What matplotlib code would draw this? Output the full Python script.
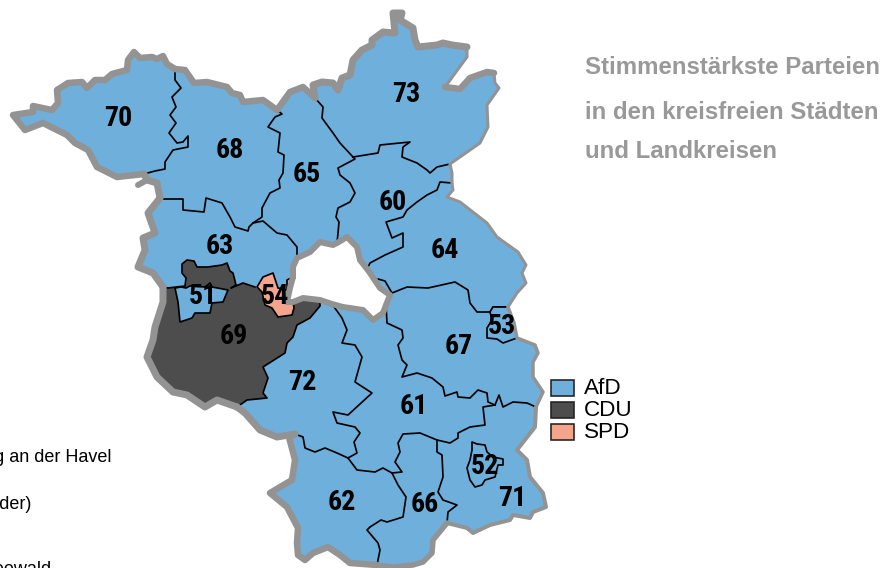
import matplotlib
matplotlib.use('Agg')
import matplotlib.pyplot as plt
from matplotlib.patches import Rectangle

NARROW = ['Roboto Condensed', 'Liberation Sans']
BLUE, DARK, SALMON, GRAU = '#6fafdb', '#4d4d4d', '#f4a58c', '#939393'

# Wahlkreise: Nummer = Beschriftung, Partei = Farbe
kreise = [70, 68, 65, 73, 60, 64, 63, 67, 61, 72, 62, 66, 71, 69, 51, 54, 53, 52]
partei = ['AfD', 'AfD', 'AfD', 'AfD', 'AfD', 'AfD', 'AfD', 'AfD', 'AfD', 'AfD', 'AfD', 'AfD', 'AfD',
          'CDU', 'AfD', 'SPD', 'AfD', 'AfD']
parteien = ['AfD', 'CDU', 'SPD']
farben = [BLUE, DARK, SALMON]
titel = ['Stimmenstärkste Parteien', 'in den kreisfreien Städten', 'und Landkreisen']
liste = ['Brandenburg an der Havel', 'Frankfurt (Oder)', 'Dahme-Spreewald']

# Label-Positionen
label_pos = {70: (118, 117), 68: (230, 150), 65: (307, 173), 73: (406, 94), 60: (393, 201), 64: (445, 249),
             63: (220, 245), 51: (203, 296), 54: (275, 295), 69: (234, 335), 72: (302, 381), 67: (459, 345),
             53: (502, 326), 61: (414, 406), 52: (485, 465), 71: (512, 498), 62: (342, 501), 66: (425, 503)}

# Aussengrenze, Stuecke im Uhrzeigersinn (Pixel des Bildes)
o70 = [(144, 174), (117, 177), (97, 167), (88, 150), (75, 143), (67, 135), (43, 123), (25, 130), (13, 115), (33, 112),
       (33, 106), (52, 110), (58, 103), (57, 90), (68, 83), (82, 82), (87, 88), (95, 80), (105, 80), (112, 74), (127, 70),
       (128, 60), (134, 52), (140, 58), (152, 57), (157, 59), (163, 56), (167, 64), (175, 69)]
o68n = [(175, 69), (185, 70), (194, 83), (207, 82), (227, 87), (232, 93), (240, 95), (243, 102), (263, 100), (277, 110)]
o65 = [(277, 110), (290, 92), (303, 87), (315, 98)]
o73a = [(315, 98), (313, 85), (322, 82), (333, 83), (338, 90), (342, 78), (350, 75), (353, 60), (362, 50), (372, 45),
        (372, 40), (383, 32), (395, 33), (393, 13), (402, 13), (400, 20), (413, 28), (415, 40), (418, 47), (437, 45),
        (443, 43), (452, 45), (467, 47)]
o73b = [(467, 47), (467, 57), (445, 87)]
o73c = [(445, 87), (460, 89), (470, 78), (487, 72), (494, 73)]
o73d = [(494, 73), (495, 83), (499, 88), (487, 105), (488, 127), (480, 143), (450, 164)]
o60 = [(450, 164), (452, 173), (452, 183)]
o64 = [(452, 183), (453, 190), (447, 197), (460, 202), (487, 223), (497, 237), (518, 252), (526, 265), (522, 273),
       (526, 283), (517, 293), (508, 307)]
o67 = [(508, 307), (514, 323), (517, 338), (535, 345), (538, 353), (533, 362), (533, 377), (543, 392), (536, 407)]
o71 = [(536, 407), (535, 427), (517, 450), (527, 460), (530, 477), (543, 493), (546, 507), (533, 512), (530, 518),
       (513, 515), (510, 520), (490, 525), (473, 533), (467, 528), (447, 523)]
o66 = [(447, 523), (433, 540), (432, 553), (423, 562), (413, 565), (393, 567), (377, 565)]
o62 = [(377, 565), (350, 563), (340, 555), (328, 547), (313, 553), (305, 560), (298, 555), (297, 543), (298, 528),
       (287, 507), (270, 493), (292, 480), (295, 460), (289, 437), (295, 434)]
o72 = [(295, 434), (277, 437), (260, 430), (245, 413), (237, 407)]
o69 = [(237, 407), (217, 400), (205, 407), (187, 395), (173, 392), (157, 377), (147, 357), (153, 340), (155, 327),
       (163, 302), (163, 287)]
o63 = [(163, 287), (153, 273), (138, 267), (145, 250), (143, 238), (155, 233), (148, 213), (160, 198)]
o68w = [(160, 198), (157, 183), (147, 180), (144, 174)]
sporn = [(147, 180), (138, 185)]

# Ring um Berlin
b63 = [(293, 277), (293, 267), (297, 258)]
b65 = [(297, 258), (310, 252), (320, 242), (333, 245), (337, 243)]
b60 = [(337, 243), (347, 237), (357, 247), (360, 260), (367, 269)]
b64 = [(367, 269), (370, 273), (376, 282)]
b67 = [(376, 282), (380, 288), (390, 295), (386, 305)]
b61 = [(386, 305), (383, 313), (373, 320), (363, 310), (343, 307), (332, 304)]
b72 = [(332, 304), (320, 300)]
b69 = [(320, 300), (303, 298), (293, 302)]
b54 = [(293, 302), (287, 302), (290, 288), (293, 277)]

# innere Grenzen
a70_68 = [(144, 174), (155, 171), (165, 169), (165, 162), (173, 150), (188, 147), (188, 136), (183, 142), (177, 143),
          (169, 133), (176, 123), (170, 115), (176, 107), (172, 97), (181, 88), (175, 80), (175, 69)]
a68_65 = [(277, 110), (282, 114), (275, 117), (268, 127), (280, 133), (278, 152), (284, 155), (283, 173), (279, 180),
          (280, 188), (270, 193), (262, 208), (262, 217), (253, 223)]
a68_63 = [(160, 198), (163, 199), (183, 199), (183, 210), (204, 212), (206, 198), (222, 203), (230, 217), (235, 227),
          (248, 231), (249, 227), (253, 223)]
a63_65 = [(253, 223), (263, 221), (277, 233), (287, 235), (297, 247), (297, 258)]
a65_73 = [(315, 98), (323, 107), (322, 118), (333, 133), (340, 143), (353, 157)]
a73_60 = [(353, 157), (378, 153), (380, 145), (410, 142), (403, 147), (402, 157), (417, 163), (427, 170), (430, 173),
          (437, 167), (450, 164)]
a65_60 = [(353, 157), (355, 159), (338, 168), (340, 175), (350, 183), (355, 193), (350, 202), (338, 208), (336, 217),
          (339, 222), (338, 233), (337, 243)]
a60_64 = [(452, 183), (440, 182), (437, 190), (427, 195), (417, 202), (407, 210), (403, 217), (386, 222), (392, 238),
          (403, 233), (403, 247), (385, 255), (370, 263), (367, 269)]
a64_67 = [(376, 282), (378, 279), (385, 281), (392, 293), (407, 287), (428, 288), (455, 282), (468, 290), (470, 303),
          (477, 312), (490, 312), (493, 307), (508, 307)]
a67_61 = [(386, 305), (387, 323), (402, 330), (403, 338), (398, 345), (402, 360), (407, 365), (402, 377), (417, 373),
          (432, 378), (443, 387), (445, 396), (457, 392), (458, 397), (470, 398), (478, 390), (487, 393), (488, 402),
          (495, 405)]
a67_71 = [(495, 405), (499, 395), (503, 407), (513, 402), (527, 403), (536, 407)]
a61_71 = [(495, 405), (483, 407), (485, 425), (470, 427), (458, 433), (458, 438), (450, 443), (437, 440)]
a61_66 = [(437, 440), (420, 433), (403, 434), (398, 443), (400, 452), (395, 462), (402, 472), (392, 473)]
a66_71 = [(437, 440), (437, 452), (442, 455), (443, 477), (438, 492), (443, 500), (457, 505), (448, 512), (447, 523)]
a61_62 = [(392, 473), (383, 468), (375, 472), (357, 470), (348, 458)]
a62_72 = [(348, 458), (337, 453), (325, 448), (315, 452), (305, 448), (303, 437), (295, 434)]
a72_61 = [(332, 304), (342, 318), (347, 330), (342, 343), (355, 345), (362, 357), (355, 382), (372, 393), (348, 415),
          (333, 412), (337, 423), (355, 427), (360, 433), (354, 442), (357, 453), (348, 458)]
a72_69 = [(320, 300), (320, 306), (310, 318), (297, 325), (293, 337), (287, 343), (285, 353), (263, 367), (268, 378),
          (263, 393), (267, 398), (247, 400), (237, 407)]
a62_66 = [(392, 473), (398, 485), (406, 497), (403, 517), (387, 522), (381, 520), (370, 527), (367, 530), (378, 543),
          (380, 550), (377, 565)]
t69 = [(163, 287), (168, 288), (185, 286), (186, 278), (182, 273), (182, 264), (187, 260), (194, 261), (197, 267),
       (208, 267), (222, 265), (227, 263), (230, 271), (233, 273), (236, 285), (231, 288), (243, 283), (255, 287),
       (275, 300), (293, 302)]

# kreisfreie Staedte als eigene Flaechen
p51 = [(175, 288), (181, 287), (186, 288), (190, 286), (205, 287), (210, 283), (212, 287), (228, 290), (223, 302),
       (212, 303), (210, 313), (195, 313), (192, 318), (180, 322), (178, 302)]
p54 = [(293, 277), (287, 280), (287, 290), (278, 288), (273, 273), (263, 277), (257, 287), (262, 292), (265, 305),
       (272, 308), (278, 317), (292, 315), (294, 308), (293, 302), (287, 302), (290, 288)]
p53 = [(493, 307), (508, 307), (514, 323), (517, 338), (503, 343), (497, 339), (487, 338), (487, 328), (492, 320),
       (490, 312)]
p52 = [(472, 442), (477, 444), (485, 445), (487, 452), (493, 457), (503, 459), (503, 465), (498, 465), (495, 477),
       (485, 480), (482, 485), (475, 487), (470, 480), (467, 468), (470, 460), (472, 450)]


def r(arc):
    return arc[::-1]


flaechen = {
    70: o70 + r(a70_68),
    68: o68n + a68_65 + r(a68_63) + o68w + a70_68,
    65: o65 + a65_73 + a65_60 + r(b65) + r(a63_65) + r(a68_65),
    73: o73a + o73b + o73c + o73d + r(a73_60) + r(a65_73),
    60: a73_60 + o60 + a60_64 + r(b60) + r(a65_60),
    64: r(a60_64) + o64 + r(a64_67) + r(b64),
    63: o63 + a68_63 + a63_65 + r(b63) + [(275, 300), (200, 300)],
    67: a64_67 + o67 + r(a67_71) + r(a67_61) + r(b67),
    61: a67_61 + a61_71 + a61_66 + a61_62 + r(a72_61) + r(b61),
    72: r(b72) + a72_61 + a62_72 + o72 + r(a72_69),
    62: r(a62_72) + r(a61_62) + a62_66 + o62,
    66: r(a61_66) + a66_71 + o66 + r(a62_66),
    71: r(a61_71) + a67_71 + o71 + r(a66_71),
    69: o69 + t69 + r(b69) + a72_69,
    51: p51, 54: p54, 53: p53, 52: p52,
}

innen = [a70_68, a68_65, a68_63, a63_65, a65_73, a73_60, a65_60, a60_64, a64_67, a67_61, a67_71, a61_71, a61_66,
         a66_71, a61_62, a62_72, a72_61, a72_69, a62_66, t69[:18]]
aussen = [(o70, 6.5), (o68n, 6.5), (o65, 6.5), (o73a, 7), (o73b, 3), (o73c, 6.5), (o73d, 3), (o60, 3), (o64, 3),
          (o67, 3.5), (o71, 4), (o66, 5.5), (o62, 6.5), (o72, 7), (o69, 7), (o63, 7), (o68w, 7), (sporn, 6),
          (b63 + b65 + b60 + b64 + b67 + b61 + b72 + b69 + b54, 6)]

fig = plt.figure(figsize=(8.94, 5.68), dpi=100)
ax = fig.add_axes([0, 0, 1, 1])
ax.set_xlim(0, 894)
ax.set_ylim(568, 0)
ax.axis('off')

# px -> pt bei dpi 100
PX = 0.72

for k, p in zip(kreise, partei):
    xs, ys = zip(*flaechen[k])
    enklave = k in (51, 54, 53, 52)
    ax.fill(xs, ys, facecolor=farben[parteien.index(p)], edgecolor='black' if enklave else 'none',
            linewidth=1.7 * PX, joinstyle='round', zorder=3 if enklave else 2)

for arc in innen:
    xs, ys = zip(*arc)
    ax.plot(xs, ys, color='black', lw=1.7 * PX, solid_joinstyle='round', zorder=2.5)

for arc, w in aussen:
    xs, ys = zip(*arc)
    ax.plot(xs, ys, color=GRAU, lw=w * PX, solid_joinstyle='round', solid_capstyle='round', zorder=4)

for k in kreise:
    x, y = label_pos[k]
    ax.text(x, y + 1, str(k), family=NARROW, weight='bold', fontsize=28 * PX, color='black',
            ha='center', va='center', zorder=5)

# Legende
for i, (name, c) in enumerate(zip(parteien, farben)):
    y0 = 380 + i * 22
    ax.add_patch(Rectangle((551, y0), 23, 16, facecolor=c, edgecolor='#222222', linewidth=1.6 * PX, zorder=5))
    ax.text(584, y0 + 8.5, name, family='Liberation Sans', fontsize=22.5 * PX, color='black', va='center', ha='left',
            zorder=5)

# Titel
for t, y in zip(titel, [74, 119, 158]):
    ax.text(585, y, t, family='Liberation Sans', weight='bold', fontsize=24 * PX, color='#999999',
            ha='left', va='baseline', zorder=5)

# abgeschnittene Kreisliste am linken Rand
for t, x, y in zip(liste, [112, 31, 52], [462, 509, 574]):
    ax.text(x, y, t, family='Liberation Sans', fontsize=18 * PX, color='black', ha='right', va='baseline', zorder=5)

fig.savefig('out.png', dpi=100)
